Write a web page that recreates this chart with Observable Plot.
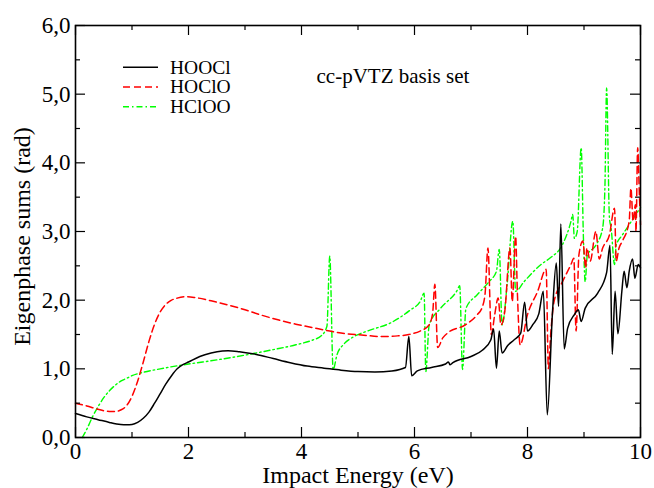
<!DOCTYPE html>
<html><head><meta charset="utf-8">
<script src="https://cdn.jsdelivr.net/npm/d3@7"></script>
<script src="https://cdn.jsdelivr.net/npm/@observablehq/plot@0.6"></script>
<style>
html,body{margin:0;padding:0;background:#fff;}
#chart{width:654px;height:488px;}
</style></head><body><div id="chart"></div>
<script>
// ---- data ----
const seriesNames = ["HOOCl", "HOClO", "HClOO"];
const seriesColors = ["#000000", "#ff0000", "#00ff00"];
const seriesDash = [null, "7,4", "6,3,1.5,3"];

const hooclE = [0,0.2,0.4,0.6,0.8,0.9,1.0,1.1,1.2,1.3,1.4,1.5,1.6,1.7,1.8,1.9,2.0,2.2,2.4,2.6,2.7,2.9,3.2,3.5,3.8,4.1,4.4,4.7,5.0,5.3,5.6,5.84,5.9,5.95,6.05,6.3,6.55,6.6,6.63,6.68,7.0,7.2,7.35,7.4,7.45,7.5,7.55,7.65,7.76,7.88,7.95,8.0,8.1,8.2,8.28,8.35,8.44,8.51,8.55,8.59,8.65,8.71,8.83,8.9,8.95,9.02,9.24,9.4,9.46,9.5,9.55,9.6,9.67,9.71,9.76,9.8,9.86,9.9,9.96,10];
const hooclPhase = [0.35,0.3,0.26,0.22,0.19,0.185,0.19,0.22,0.28,0.37,0.5,0.64,0.78,0.9,1.0,1.06,1.1,1.18,1.23,1.26,1.265,1.25,1.21,1.15,1.09,1.04,1.01,0.98,0.96,0.955,0.97,1.02,1.47,0.9,0.97,1.02,1.07,1.1,1.06,1.09,1.18,1.27,1.42,1.58,1.01,1.55,1.23,1.34,1.42,1.52,1.97,1.55,1.65,1.8,2.13,0.33,1.79,2.54,1.91,3.11,1.29,1.59,1.79,1.86,1.69,1.88,2.1,2.4,2.8,1.21,2.13,1.51,2.13,2.42,2.18,2.42,2.6,2.32,2.52,2.47];

const hocloE = [0,0.2,0.4,0.6,0.7,0.8,0.9,1.0,1.1,1.2,1.3,1.4,1.5,1.6,1.7,1.8,1.95,2.1,2.4,2.7,3.0,3.3,3.6,3.9,4.2,4.5,4.8,5.1,5.4,5.7,5.9,6.1,6.25,6.32,6.36,6.41,6.5,6.6,6.9,7.1,7.2,7.25,7.3,7.36,7.42,7.48,7.53,7.6,7.69,7.73,7.79,7.82,7.87,8.0,8.18,8.33,8.37,8.41,8.47,8.62,8.77,8.82,8.86,8.91,8.98,9.03,9.05,9.11,9.21,9.27,9.33,9.45,9.54,9.57,9.62,9.68,9.8,9.83,9.87,9.91,9.92,9.95,9.98,10];
const hocloPhase = [0.5,0.46,0.41,0.38,0.38,0.4,0.46,0.6,0.82,1.1,1.4,1.65,1.83,1.94,2.0,2.03,2.05,2.04,1.99,1.93,1.86,1.78,1.71,1.65,1.6,1.55,1.51,1.49,1.47,1.48,1.5,1.55,1.63,1.8,2.23,1.31,1.45,1.53,1.64,1.78,1.9,2.1,2.76,1.5,1.79,2.03,1.64,1.85,2.76,1.98,2.93,2.13,1.35,1.79,2.13,2.45,1.0,1.5,1.98,2.27,2.52,2.61,1.55,2.66,2.86,2.47,2.76,2.57,3.0,2.6,2.76,2.95,3.34,2.57,2.76,2.86,3.15,3.63,3.15,3.39,3.0,4.22,3.54,3.1];

const hclooE = [0.12,0.2,0.3,0.4,0.5,0.6,0.7,0.8,0.9,1.0,1.2,1.5,2.0,2.5,3.0,3.5,3.9,4.2,4.35,4.45,4.5,4.56,4.63,4.75,4.93,5.2,5.58,5.93,6.1,6.17,6.2,6.26,6.46,6.76,6.8,6.85,6.91,7.11,7.32,7.45,7.5,7.55,7.64,7.74,7.79,7.94,8.24,8.41,8.62,8.77,8.8,8.83,8.88,8.95,8.99,9.02,9.06,9.21,9.33,9.37,9.4,9.45,9.48,9.54,9.57,9.68,9.8,9.92,10];
const hclooPhase = [0.0,0.12,0.3,0.45,0.58,0.68,0.76,0.82,0.86,0.9,0.95,1.0,1.07,1.13,1.2,1.28,1.35,1.42,1.48,1.62,2.64,0.99,1.21,1.36,1.47,1.56,1.67,1.86,1.98,2.1,0.96,1.64,1.88,2.15,2.21,0.99,1.88,2.08,2.27,2.42,2.74,1.64,2.23,3.15,2.13,2.27,2.52,2.62,2.81,3.15,3.25,2.9,3.0,4.22,2.9,2.27,2.66,2.8,3.05,3.64,5.09,3.2,3.05,2.52,2.8,2.95,3.1,3.25,3.35];

const xTicks = [0, 2, 4, 6, 8, 10];
const xMinorTicks = [1, 3, 5, 7, 9];
const yTicks = [0, 1, 2, 3, 4, 5, 6];
const yTickLabels = ["0,0", "1,0", "2,0", "3,0", "4,0", "5,0", "6,0"];
const yMinorTicks = [0.5, 1.5, 2.5, 3.5, 4.5, 5.5];
const titleText = "cc-pVTZ basis set";
const xLabel = "Impact Energy (eV)";
const yLabel = "Eigenphase sums (rad)";

// ---- build ----
const seriesE = [hooclE, hocloE, hclooE];
const seriesP = [hooclPhase, hocloPhase, hclooPhase];
const tables = seriesNames.map((name, i) => seriesE[i].map((e, j) => ({series: name, E: e, phase: seriesP[i][j]})));

const W = 654, H = 488, mL = 75, mR = 14, mT = 25, mB = 51;
const plotW = W - mL - mR, plotH = H - mT - mB;
const FONT = "'Liberation Serif', 'Times New Roman', serif";

function legendMark(index, scales, values, dims) {
  const g = d3.create("svg:g").attr("font-family", FONT).attr("font-size", 19.5);
  seriesNames.forEach((name, i) => {
    const y = dims.marginTop + 42.3 + i * 19.7;
    const ln = g.append("line")
      .attr("x1", dims.marginLeft + 48).attr("x2", dims.marginLeft + 83)
      .attr("y1", y).attr("y2", y)
      .attr("stroke", seriesColors[i]).attr("stroke-width", 1.5);
    if (seriesDash[i]) ln.attr("stroke-dasharray", seriesDash[i]);
    g.append("text").attr("x", dims.marginLeft + 95).attr("y", y).attr("dy", "0.32em")
      .attr("text-anchor", "start").attr("fill", "#000").text(name);
  });
  return g.node();
}

const chart = Plot.plot({
  width: W, height: H,
  marginLeft: mL, marginRight: mR, marginTop: mT, marginBottom: mB,
  style: {fontFamily: FONT, fontSize: "24px", background: "#fff", color: "#000"},
  x: {domain: [0, 10]},
  y: {domain: [0, 6]},
  marks: [
    Plot.line(tables[2], {x: "E", y: "phase", stroke: seriesColors[2], strokeWidth: 1.4, strokeDasharray: seriesDash[2], curve: "monotone-x"}),
    Plot.line(tables[1], {x: "E", y: "phase", stroke: seriesColors[1], strokeWidth: 1.5, strokeDasharray: seriesDash[1], curve: "monotone-x"}),
    Plot.line(tables[0], {x: "E", y: "phase", stroke: seriesColors[0], strokeWidth: 1.5, curve: "monotone-x"}),
    // inward ticks
    Plot.tickX(xTicks, {x: d => d, insetTop: plotH - 10, stroke: "#000", strokeWidth: 1.2}),
    Plot.tickX(xTicks, {x: d => d, insetBottom: plotH - 10, stroke: "#000", strokeWidth: 1.2}),
    Plot.tickX(xMinorTicks, {x: d => d, insetTop: plotH - 5, stroke: "#000", strokeWidth: 1.2}),
    Plot.tickX(xMinorTicks, {x: d => d, insetBottom: plotH - 5, stroke: "#000", strokeWidth: 1.2}),
    Plot.tickY(yTicks, {y: d => d, insetRight: plotW - 10, stroke: "#000", strokeWidth: 1.2}),
    Plot.tickY(yTicks, {y: d => d, insetLeft: plotW - 10, stroke: "#000", strokeWidth: 1.2}),
    Plot.tickY(yMinorTicks, {y: d => d, insetRight: plotW - 5, stroke: "#000", strokeWidth: 1.2}),
    Plot.tickY(yMinorTicks, {y: d => d, insetLeft: plotW - 5, stroke: "#000", strokeWidth: 1.2}),
    Plot.frame({stroke: "#000", strokeWidth: 1.6}),
    Plot.axisX({ticks: xTicks, tickSize: 0, tickPadding: 5, fontSize: 23, label: null, tickFormat: d => String(d)}),
    Plot.axisY({ticks: yTicks, tickSize: 0, tickPadding: 5, fontSize: 23, label: null, tickFormat: d => yTickLabels[yTicks.indexOf(d)]}),
    Plot.text([xLabel], {frameAnchor: "bottom", lineAnchor: "middle", textAnchor: "middle", dy: 37.5, fontSize: 24, fill: "#000"}),
    Plot.text([yLabel], {frameAnchor: "left", lineAnchor: "middle", textAnchor: "middle", dx: -53, dy: 5, rotate: -90, fontSize: 24, fill: "#000"}),
    Plot.text([titleText], {frameAnchor: "top-left", lineAnchor: "middle", textAnchor: "start", dx: 241, dy: 50.6, fontSize: 21, fill: "#000"}),
    legendMark
  ]
});
document.getElementById("chart").appendChild(chart);
</script></body></html>
